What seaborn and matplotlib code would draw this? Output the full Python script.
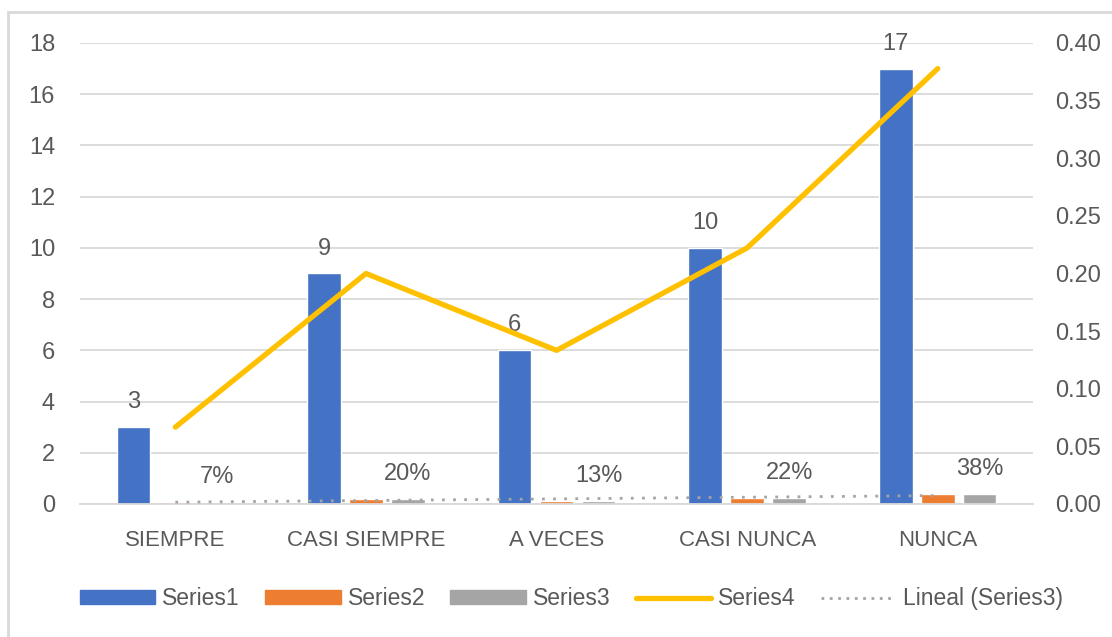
import matplotlib
matplotlib.use("Agg")
import matplotlib.pyplot as plt
from matplotlib.patches import Patch, Rectangle
from matplotlib.lines import Line2D
from matplotlib.ticker import MultipleLocator, FormatStrFormatter
import seaborn as sns
import numpy as np
import pandas as pd

# datos
categorias = ["SIEMPRE", "CASI SIEMPRE", "A VECES", "CASI NUNCA", "NUNCA"]
series1 = [3, 9, 6, 10, 17]
series2 = [0.0667, 0.2, 0.1333, 0.2222, 0.3778]
series3 = [0.0667, 0.2, 0.1333, 0.2222, 0.3778]
series4 = [0.0667, 0.2, 0.1333, 0.2222, 0.3778]
etiquetas_pct = ["7%", "20%", "13%", "22%", "38%"]
nombres = ["Series1", "Series2", "Series3"]

azul, naranja, gris, amarillo = "#4472C4", "#ED7D31", "#A5A5A5", "#FFC000"
texto = "#595959"
rejilla = "#D9D9D9"

sns.set_style("white")
plt.rcParams["font.family"] = ["Liberation Sans", "DejaVu Sans"]
plt.rcParams["text.color"] = texto

df = pd.DataFrame({
    "categoria": categorias * 3,
    "serie": [n for n in nombres for _ in categorias],
    "valor": series1 + series2 + series3,
})

fig = plt.figure(figsize=(11.12, 6.37), dpi=100)
ax = fig.add_axes([0.072, 0.2088, 0.857, 0.7237])

sns.barplot(data=df, x="categoria", y="valor", hue="serie",
            palette=[azul, naranja, gris], width=0.66, gap=0.2,
            saturation=1, legend=False, ax=ax, zorder=2)

# etiquetas de datos
ax.bar_label(ax.containers[0], labels=[str(v) for v in series1],
             padding=10, fontsize=17, color=texto)
ax.bar_label(ax.containers[2], labels=etiquetas_pct,
             padding=10, fontsize=17, color=texto)

# linea de tendencia (Series3)
pos = np.arange(len(categorias))
m, b = np.polyfit(pos, series3, 1)
ax.plot(pos, m * pos + b, color=gris, linestyle=(0, (1, 3)), lw=2, zorder=4)

ax.set_ylim(0, 18)
ax.set_xlim(-0.5, 4.5)
ax.yaxis.set_major_locator(MultipleLocator(2))
ax.grid(axis="y", color=rejilla, lw=1.3, zorder=0)
ax.set_axisbelow(True)
ax.set_xlabel("")
ax.set_ylabel("")
for s in ["top", "right", "left"]:
    ax.spines[s].set_visible(False)
ax.spines["bottom"].set_color(rejilla)
ax.spines["bottom"].set_linewidth(1.3)
ax.tick_params(axis="y", length=0, pad=18, labelsize=17, labelcolor=texto)
ax.tick_params(axis="x", length=0, pad=19, labelsize=16, labelcolor=texto)

# eje secundario
ax2 = ax.twinx()
sns.lineplot(x=pos, y=series4, color=amarillo, lw=3.8, ax=ax2,
             solid_capstyle="round", solid_joinstyle="round")
ax2.set_ylim(0, 0.4)
ax2.yaxis.set_major_locator(MultipleLocator(0.05))
ax2.yaxis.set_major_formatter(FormatStrFormatter("%.2f"))
ax2.tick_params(axis="y", length=0, pad=16, labelsize=17, labelcolor=texto)
for s in ax2.spines.values():
    s.set_visible(False)
ax2.set_ylabel("")

handles = [
    Patch(color=azul, label="Series1"),
    Patch(color=naranja, label="Series2"),
    Patch(color=gris, label="Series3"),
    Line2D([], [], color=amarillo, lw=3.8, solid_capstyle="round", label="Series4"),
    Line2D([], [], color=gris, lw=2, linestyle=(0, (1, 2)), label="Lineal (Series3)"),
]
fig.legend(handles=handles, loc="center", bbox_to_anchor=(0.514, 0.06), ncol=5,
           frameon=False, fontsize=16.5, handlelength=3.3, handleheight=0.55,
           handletextpad=0.3, columnspacing=1.1, labelcolor=texto)

fig.patches.append(Rectangle((0.0072, -0.1), 1.5, 1.081, transform=fig.transFigure,
                             fill=False, edgecolor=rejilla, lw=2))

fig.savefig("out.png", dpi=100)
